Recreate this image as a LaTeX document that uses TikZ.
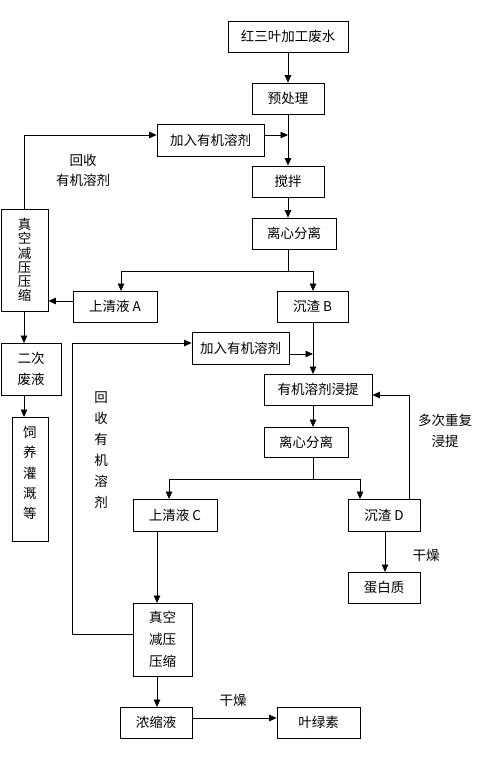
\documentclass[tikz,border=0pt]{standalone}
\usepackage{fontspec}
\setmainfont{Noto Sans CJK SC}
\usetikzlibrary{arrows.meta}
\begin{document}
\begin{tikzpicture}[x=1pt,y=-1pt,
  box/.style={draw, line width=0.8pt, inner sep=0pt, align=center, font=\fontsize{13.5}{14.2}\selectfont},
  arr/.style={-{Triangle[length=7.5pt,width=6.5pt]}, line width=0.8pt},
  ln/.style={line width=0.8pt},
  lbl/.style={inner sep=0pt, align=center, font=\fontsize{13.5}{20.5}\selectfont}]
\useasboundingbox (0,0) rectangle (480,763);
% boxes
\node[box, minimum width=120pt, minimum height=31pt] (src) at (288,36.5) {红三叶加工废水};
\node[box, minimum width=72pt, minimum height=31pt] (pre) at (288,98.5) {预处理};
\node[box, minimum width=107pt, minimum height=32pt] (add1) at (210.5,140) {加入有机溶剂};
\node[box, minimum width=72pt, minimum height=31pt] (stir) at (288,181.5) {搅拌};
\node[box, minimum width=84pt, minimum height=31pt] (sep1) at (294,233.5) {离心分离};
\node[box, minimum width=47pt, minimum height=102pt] (vac1) at (24.5,260) {真\\空\\减\\压\\压\\缩};
\node[box, minimum width=84pt, minimum height=31pt] (clearA) at (115,306.5) {上清液 A};
\node[box, minimum width=71pt, minimum height=31pt] (resB) at (312.5,306.5) {沉渣 B};
\node[box, minimum width=60pt, minimum height=52pt, font=\fontsize{13.5}{21}\selectfont] (waste2) at (31,369) {二次\\废液};
\node[box, minimum width=36pt, minimum height=124pt, font=\fontsize{13.5}{20.3}\selectfont] (feed) at (30,479) {饲\\养\\灌\\溉\\等\\[-7pt]};
\node[box, minimum width=97pt, minimum height=32pt] (add2) at (240.5,348) {加入有机溶剂};
\node[box, minimum width=108pt, minimum height=31pt] (ext) at (318,389.5) {有机溶剂浸提};
\node[box, minimum width=84pt, minimum height=30pt] (sep2) at (306,442) {离心分离};
\node[box, minimum width=84pt, minimum height=32pt] (clearC) at (175,515) {上清液 C};
\node[box, minimum width=72pt, minimum height=32pt] (resD) at (384,515) {沉渣 D};
\node[box, minimum width=59pt, minimum height=73pt, font=\fontsize{13.5}{22}\selectfont] (vac2) at (162.5,639.5) {真空\\减压\\压缩};
\node[box, minimum width=72pt, minimum height=31pt] (prot) at (384,587.5) {蛋白质};
\node[box, minimum width=72pt, minimum height=31pt] (conc) at (156,722.5) {浓缩液};
\node[box, minimum width=83pt, minimum height=31pt] (chl) at (318.5,722.5) {叶绿素};
% labels
\node[lbl, font=\fontsize{13.5}{20}\selectfont] (rec1) at (83,170) {回收\\有机溶剂};
\node[lbl, font=\fontsize{13.5}{21}\selectfont] (rec2) at (101,450.5) {回\\收\\有\\机\\溶\\剂};
\node[lbl, font=\fontsize{13.5}{21}\selectfont] (rep) at (445,430.5) {多次重复\\浸提};
\node[lbl] (dry1) at (426,555) {干燥};
\node[lbl] (dry2) at (233,700) {干燥};
% coordinates
\coordinate (j1) at (288,135);
\coordinate (b1) at (288,271);
\coordinate (b2) at (313,479);
\coordinate (pa) at ([yshift=5.5pt]clearA.west);
\coordinate (pc) at ([yshift=4.5pt]conc.east);
% connectors
\draw[arr] (src.south) -- (pre.north);
\draw[arr] (pre.south) -- (stir.north);
\draw[arr] ([yshift=5pt]add1.east) -- (j1);
\draw[arr] (stir.south) -- (stir.south |- sep1.north);
\draw[ln] (stir.south |- sep1.south) -- (b1);
\draw[arr] (b1) -| (121,291);
\draw[arr] (b1) -| (313,291);
\draw[arr] (pa) -- (vac1.east |- pa);
\draw[arr] (vac1.north) |- ([yshift=5pt]add1.west);
\draw[arr] (24,311) -- (24,343);
\draw[arr] (24,395) -- (24,417);
\draw[arr] (313,322) -- (313,374);
\draw[arr] ([yshift=-6pt]add2.east) -- (313,354);
\draw[arr] ([yshift=5.5pt]vac2.west) -- ++(-60,0) |- ([yshift=5pt]add2.west);
\draw[arr] (313,405) -- (313,427);
\draw[ln] (313,457) -- (b2);
\draw[arr] (b2) -| (169,499);
\draw[arr] (b2) -| (360,499);
\draw[arr] (409,499) |- ([yshift=-5.5pt]ext.east);
\draw[arr] (157,531) -- (157,603);
\draw[arr] (385,531) -- (385,572);
\draw[arr] (157,676) -- (157,707);
\draw[arr] (pc) -- (chl.west |- pc);
\end{tikzpicture}
\end{document}
